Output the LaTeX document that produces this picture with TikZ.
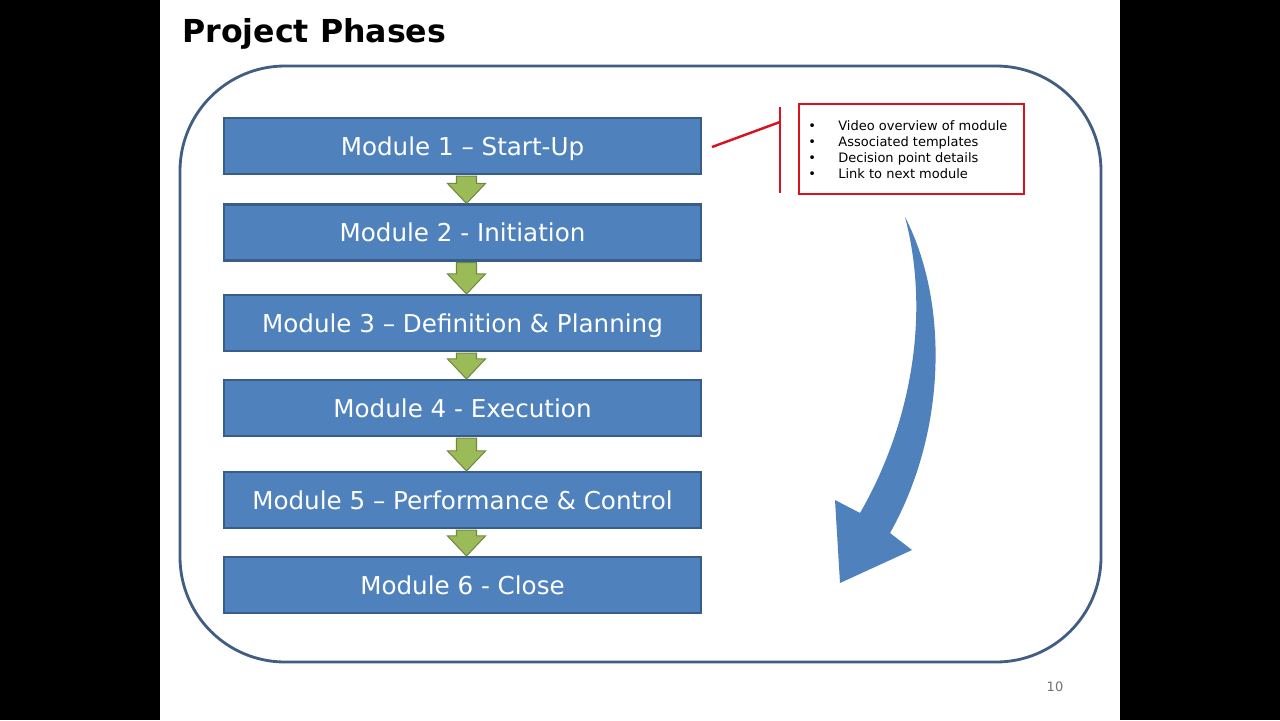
\documentclass[tikz,border=0pt]{standalone}
\usepackage{fontspec}
\setmainfont{DejaVu Sans}
\usetikzlibrary{calc}
\definecolor{modFill}{RGB}{79,129,189}
\definecolor{modLine}{RGB}{56,93,138}
\definecolor{stepFill}{RGB}{155,187,89}
\definecolor{stepLine}{RGB}{113,137,63}
\definecolor{frameColor}{RGB}{65,93,130}
\definecolor{calloutRed}{RGB}{218,18,30}
\tikzset{
  module/.style={draw=modLine, line width=1.2pt, fill=modFill, text=white,
    minimum width=9.54cm, minimum height=1.12cm, text height=10.6pt, text depth=0pt,
    font=\fontsize{14}{16}\selectfont},
  steparrow/.style={draw=stepLine, line width=0.6pt, fill=stepFill},
  bullettext/.style={anchor=base west, inner sep=0pt, font=\fontsize{7.4}{8}\selectfont},
}
\begin{document}
\begin{tikzpicture}[x=0.02cm, y=-0.02cm]
\useasboundingbox (0,0) rectangle (1280,720);
\fill[black] (0,0) rectangle (1280,720);
\fill[white] (160,0) rectangle (1120,720);
% title
\node[anchor=west, inner sep=0pt, font=\fontsize{18}{20}\bfseries\selectfont] (title) at (182,34) {Project Phases};
% frame
\draw[frameColor, line width=1.6pt, rounded corners=2.1cm] (180,66) rectangle (1101,662);
% modules
\node[module] (m1) at (462.5,146) {Module 1 -- Start-Up};
\node[module] (m2) at (462.5,232.5) {Module 2 - Initiation};
\node[module] (m3) at (462.5,323) {Module 3 -- Definition \& Planning};
\node[module] (m4) at (462.5,408) {Module 4 - Execution};
\node[module] (m5) at (462.5,500) {Module 5 -- Performance \& Control};
\node[module] (m6) at (462.5,585) {Module 6 - Close};
% green step arrows
\foreach \a/\b in {m1/m2,m2/m3,m3/m4,m4/m5,m5/m6}{
  \draw[steparrow] ($(\a.south)+(-6,1)$) -- ($(\a.south)+(14,1)$)
    -- ($(\b.north)+(14,-20)$) -- ($(\b.north)+(23,-20)$) -- ($(\b.north)+(4,0)$)
    -- ($(\b.north)+(-15,-20)$) -- ($(\b.north)+(-6,-20)$) -- cycle;
}
% callout
\node[draw=calloutRed, line width=1.4pt, minimum width=4.5cm, minimum height=1.8cm,
  inner sep=0pt] (note) at (911.5,149) {};
\foreach \t [count=\i] in {Video overview of module, Associated templates,
  Decision point details, Link to next module}{
  \node[bullettext] (b\i) at (808,114+16*\i) {\textbullet};
  \node[bullettext] (t\i) at (838,114+16*\i) {\t};
}
\coordinate (brTop) at (780,107);
\coordinate (brBot) at (780,193);
\coordinate (brMid) at (780,122);
\draw[calloutRed, line width=1.4pt] (brTop) -- (brBot);
\draw[calloutRed, line width=1.4pt] (m1.east) ++(10,1) coordinate (lead) -- (brMid);
% curved arrow
\fill[modFill] (905,217) .. controls (948,300) and (948,430) .. (890,533)
  -- (912,550) -- (840,583) -- (835,500) -- (860,513)
  .. controls (908,430) and (932,320) .. (905,217) -- cycle;
% page number
\node[text=black!55, font=\fontsize{7.4}{8}\selectfont] (page) at (1055,687) {10};
\end{tikzpicture}
\end{document}
